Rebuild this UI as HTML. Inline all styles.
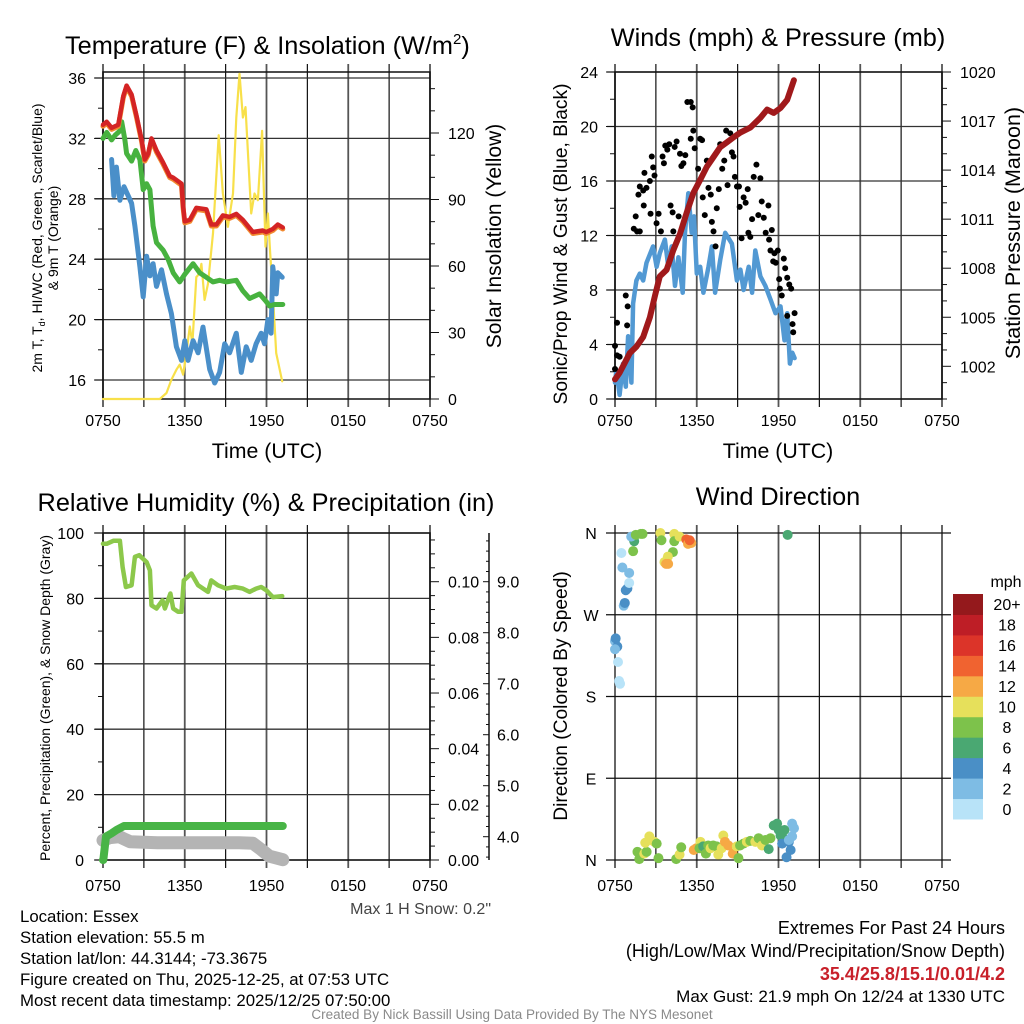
<!DOCTYPE html>
<html><head><meta charset="utf-8"><style>
html,body{margin:0;padding:0;background:#fff}
svg{display:block}
text{font-family:"Liberation Sans",sans-serif}
</style></head><body>
<svg id="chart" width="1024" height="1024" viewBox="0 0 1024 1024"></svg>
<script>
// ---- Temperature panel data (hours since 0750 UTC) ----
const tempT=[0,0.27,0.63,1.12,1.49,1.73,2.10,2.46,2.83,3.07,3.32,3.56,3.93,4.41,4.90,5.15,5.76,5.88,6.0,6.37,6.85,7.59,7.95,8.32,8.80,9.29,9.78,10.27,11.0,11.73,11.98,12.46,12.83,13.2];
const tempV=[32.9,33.1,32.7,32.9,34.8,35.5,34.9,33.5,31.9,30.6,31.0,32.0,31.2,30.4,29.5,29.4,29.0,27.5,26.5,26.6,27.4,27.3,26.3,26.3,26.9,26.8,27.0,26.6,25.8,25.9,25.8,26.0,26.3,26.1];
const dewT=[0,0.27,0.63,0.88,1.24,1.37,1.61,1.73,2.10,2.41,2.71,2.95,3.20,3.44,3.68,3.93,4.41,4.78,5.15,5.63,6.0,6.61,7.10,7.59,8.07,8.56,9.05,9.78,10.27,10.76,11.49,11.98,12.22,12.59,13.2];
const dewV=[32.0,32.4,31.9,32.2,32.5,33.1,31.9,31.0,30.5,31.2,30.6,28.6,29.0,28.6,26.2,25.1,24.6,24.0,23.1,22.5,23.0,23.7,23.1,22.8,22.5,22.6,22.5,22.6,21.9,21.4,21.7,21.2,20.9,21.0,21.0];
const wcT=[0.63,0.80,0.98,1.24,1.54,1.85,2.10,2.34,2.71,2.95,3.20,3.44,3.68,3.93,4.29,4.66,5.02,5.39,5.76,6.0,6.24,6.61,6.98,7.34,7.83,8.20,8.56,8.93,9.29,9.78,10.15,10.51,10.88,11.24,11.61,11.85,12.10,12.34,12.46,12.71,12.83,13.15];
const wcV=[30.6,28.2,30.1,27.9,28.8,28.2,27.7,26.2,23.5,21.5,24.2,22.9,23.7,22.2,23.3,21.7,20.4,18.2,17.3,18.6,17.3,18.6,17.8,19.5,16.7,15.8,16.5,18.4,17.8,19.1,16.5,18.2,17.3,18.4,19.1,18.4,20.0,19.1,23.5,21.7,23.1,22.8];
const solT=[0,4.17,4.66,5.02,5.39,5.63,5.88,6.12,6.37,6.56,6.85,7.10,7.22,7.46,7.71,8.07,8.49,8.80,9.17,9.54,9.78,10.02,10.27,10.46,10.88,11.12,11.37,11.68,11.93,12.10,12.27,12.46,12.71,13.15];
const solV=[0,0,2.7,8.7,13.2,15.5,11,20.7,32.7,25,55,56.7,61,44.7,52,74.7,119,92.7,77.7,92.7,127,146.7,127,131.7,83.7,92.7,89.7,121,68.7,83.7,65.7,47.7,20.7,8];
const tempTicks=[16,20,24,28,32,36];
const solTicks=[0,30,60,90,120];
const timeLabels=["0750","1350","1950","0150","0750"];
// ---- Wind panel data ----
const windT=[0,0.10,0.34,0.59,0.79,0.96,1.20,1.33,1.57,1.82,2.07,2.31,2.80,3.05,3.29,3.66,3.91,4.16,4.40,4.65,4.97,5.14,5.38,5.63,5.80,6.0,6.25,6.49,6.86,7.11,7.35,7.72,8.09,8.58,8.95,9.20,9.44,9.81,10.06,10.30,10.67,11.04,11.41,11.78,12.15,12.44,12.64,12.84,13.01,13.18];
const windV=[1.2,2.1,0.3,2.6,0.9,4.6,1.2,7.0,8.7,9.2,8.7,10.0,11.2,9.7,10.7,11.7,9.7,11.2,8.3,10.4,7.8,12.2,15.1,12.2,13.4,9.2,9.7,7.8,9.7,11.2,7.8,10.2,12.2,11.4,8.7,9.5,8.0,9.7,7.8,10.9,9.0,8.3,7.3,6.3,6.8,4.3,6.3,2.6,3.4,3.0];
const gustT=[0,0,0.15,0.15,0.34,0.79,0.93,0.89,1.38,1.52,1.62,1.82,1.72,1.82,2.07,2.16,2.11,2.31,2.56,2.61,2.70,2.80,2.90,3.05,3.20,3.37,3.49,3.59,3.69,3.84,3.98,4.08,4.23,4.28,4.38,4.52,4.67,4.77,4.87,5.02,5.16,5.31,5.56,5.70,5.75,5.56,5.85,6.10,6.25,6.39,6.44,6.59,6.74,6.86,7.03,7.11,7.23,7.38,7.47,7.62,7.72,7.87,8.02,8.16,8.26,8.46,8.58,8.70,8.80,8.95,9.10,9.15,9.29,9.44,9.59,9.74,9.79,9.93,10.06,10.18,10.38,10.52,10.67,10.77,10.92,11.06,11.26,11.31,11.41,11.51,11.61,11.70,11.80,11.95,12.05,12.10,12.24,12.39,12.49,12.64,12.79,12.93,13.03,13.08,13.18,12.64];
const gustV=[2.2,3.9,5.6,3.2,3.1,7.6,6.8,5.4,12.5,13.4,12.3,12.3,15.0,15.6,15.3,16.6,14.2,15.5,16.0,13.6,17.8,17.0,16.4,12.9,13.6,12.3,17.8,17.3,18.6,18.3,18.7,14.2,13.7,12.3,18.5,18.9,13.4,18.0,17.1,17.3,17.9,21.8,21.8,21.4,19.7,19.1,18.4,16.9,19.1,19.0,14.8,13.5,17.5,15.5,15.0,13.0,12.3,11.2,14.0,15.4,18.7,16.9,17.5,19.7,15.7,19.5,18.1,17.8,16.3,15.6,15.6,14.1,11.8,14.8,14.4,15.4,12.2,11.9,13.2,16.3,17.2,13.5,16.2,14.5,13.3,12.2,14.2,11.7,10.9,12.4,10.1,10.7,10.0,10.9,8.8,8.1,7.6,10.3,9.6,8.9,8.4,8.1,5.5,4.9,6.3,6.1];
const presT=[0,0.34,0.71,1.08,1.57,2.07,2.56,2.93,3.29,3.79,4.28,4.77,5.26,5.75,6.25,6.74,7.23,7.72,8.21,8.70,9.20,9.93,10.67,11.16,11.65,12.15,12.64,13.13];
const presV=[1001.2,1001.6,1002.2,1002.8,1003.2,1003.8,1005.0,1006.3,1007.5,1007.9,1009.1,1010.1,1011.4,1012.6,1013.4,1014.2,1014.8,1015.4,1015.7,1016.0,1016.3,1016.6,1017.2,1017.7,1017.5,1017.8,1018.3,1019.5];
const windTicks=[0,4,8,12,16,20,24];
const presTicks=[1002,1005,1008,1011,1014,1017,1020];
// ---- RH panel data ----
const rhT=[0,0.27,0.76,1.24,1.44,1.68,2.10,2.34,2.66,3.20,3.44,3.56,3.93,4.37,4.54,4.95,5.15,5.51,5.76,5.93,6.49,6.98,7.71,7.95,8.44,9.05,9.66,10.27,10.76,11.24,11.61,11.98,12.46,13.15];
const rhV=[96.7,96.7,97.6,97.6,89.6,83.5,84,92.7,93.2,91.1,88.6,77.9,76.9,79.4,76.9,81.5,76.9,75.9,75.9,85.5,87.6,84,82,85.5,84,83,83.5,83,82,83,83.5,82.5,80.4,80.7];
const precT=[0,0.02,0.22,0.63,1.0,1.54,13.2];
const precV=[0,0,0.0084,0.0096,0.0108,0.0122,0.0122];
const snowT=[0,0.5,1.2,2.0,4,7,10,11.0,11.6,12.2,13.2];
const snowV=[3.93,3.98,4.0,3.9,3.88,3.88,3.88,3.87,3.75,3.62,3.55];
const rhTicks=[0,20,40,60,80,100];
const precTicks=[0,0.02,0.04,0.06,0.08,0.10];
const snowTicks=[4,5,6,7,8,9];
// ---- Wind direction data ----
const dirT=[0,0.05,0.17,0,0.22,0.30,0.37,0.64,0.72,0.79,0.91,1.04,0.54,1.04,0.47,1.33,1.41,1.19,1.53,1.90,2.02,3.33,3.41,4.35,4.35,4.74,4.25,3.88,3.63,3.75,3.90,5.23,5.36,5.60,5.48,12.67,
 1.65,1.78,2.15,2.32,2.22,2.52,2.64,2.89,3.06,3.19,4.49,4.74,4.86,5.78,5.98,6.27,6.20,6.47,6.67,6.84,7.01,7.21,7.46,7.58,7.83,7.95,8.07,8.32,8.64,8.94,9.06,9.18,9.43,9.68,9.93,10.3,10.54,10.79,11.04,11.28,11.41,11.65,11.9,12.02,12.15,12.35,12.44,12.27,12.76,12.89,12.59,13.0,13.14,13.0,12.76];
const dirV=[241,244,235,232,218,197,194,280,283,297,299,305,322,316,338,340,351,356,358,359,359,360,352,359,351,356,339,334,328,326,326,353,348,349,352,358,
 9,1,7,9,19,26,22,20,18,2,1,6,14,11,13,20,13,15,7,16,13,16,15,6,13,27,20,16,7,15,2,16,18,20,21,20,24,16,22,12,24,38,40,33,27,24,33,18,20,11,3,40,35,26,22];
const dirS=[3,5,5,3,1,1,1,3,5,5,5,1,3,3,1,9,7,3,9,9,9,11,9,11,9,11,9,11,11,13,13,15,13,13,15,7,
 9,9,11,9,11,11,11,11,9,9,9,11,9,13,13,11,9,7,9,9,11,9,9,11,11,11,13,13,13,11,9,9,9,11,9,11,9,11,9,7,9,7,7,7,7,7,7,5,5,5,5,3,3,3,3];
const dirTicks=["N","E","S","W","N"];
const speedLabels=["0","2","4","6","8","10","12","14","16","18","20+"];
const speedColors=["#b8e3f8","#7ebce4","#4a8fc6","#4aa872","#7dc24b","#e6e05b","#f6a945","#f06330","#dc3429","#be1e26","#94191c"];

const NS="http://www.w3.org/2000/svg";
const svg=document.getElementById('chart');
function mk(tag,attrs,parent){const e=document.createElementNS(NS,tag);for(const k in attrs)e.setAttribute(k,attrs[k]);(parent||svg).appendChild(e);return e;}
function txt(s,x,y,size,anchor,parent,extra){const t=mk('text',Object.assign({x:x,y:y,'font-size':size,'text-anchor':anchor||'start',fill:'#000'},extra||{}),parent);t.textContent=s;return t;}

const X0L=103,X1L=430,X0R=615,X1R=942;
function xs(x0,x1){return h=>x0+(h/24)*(x1-x0);}
function lin(d0,d1,r0,r1){return v=>r0+(v-d0)/(d1-d0)*(r1-r0);}

function frame(g,x0,x1,y0,y1,gridYs){
  for(let i=0;i<=8;i++){const x=x0+i*(x1-x0)/8;
    const l=mk('line',{x1:x,x2:x,y1:y0-8,y2:y1+8,stroke:(i%2==0)?'#555':'#111','stroke-width':(i%2==0)?1.8:1.2},g);
    }
  gridYs.forEach(y=>{const l=mk('line',{x1:x0-8,x2:x1,y1:y,y2:y,stroke:'#333','stroke-width':1.3},g);
    });
  mk('rect',{x:x0,y:y0,width:x1-x0,height:y1-y0,fill:'none',stroke:'#111','stroke-width':1.5},g);
}
function xlabels(g,x0,x1,y){timeLabels.forEach((s,i)=>{const t=txt(s,x0+i*(x1-x0)/4,y,16,'middle',g);});}
function line(g,T,V,xf,yf,color,w,name){const d=T.map((t,i)=>(i?'L':'M')+xf(t).toFixed(1)+','+yf(V[i]).toFixed(1)).join('');
  const p=mk('path',{d:d,fill:'none',stroke:color,'stroke-width':w,'stroke-linejoin':'round','stroke-linecap':'round'},g);
  return p;}

// ===== Panel 1: Temperature =====
(function(){
  const g=mk('g',{});
  const x=xs(X0L,X1L), y=lin(16,36,380,78), ys=lin(0,120,399,133);
  const t=txt('Temperature (F) & Insolation (W/m',65,54,25.3,'start',g);
  const sup=mk('tspan',{dy:-10,'font-size':15},t);sup.textContent='2';
  const cl=mk('tspan',{dy:10},t);cl.textContent=')';
  
  frame(g,X0L,X1L,72,399,tempTicks.map(y));
  for(let v=16;v<=36;v+=2){mk('line',{x1:X0L-(v%4?5:9),x2:X0L,y1:y(v),y2:y(v),stroke:'#111'},g);}
  tempTicks.forEach(v=>{const e=txt(String(v),86,y(v)+6,16,'end',g);});
  for(let v=0;v<=145;v+=10){mk('line',{x1:X1L,x2:X1L+(v%30?5:9),y1:ys(v),y2:ys(v),stroke:'#111'},g);}
  solTicks.forEach(v=>{const e=txt(String(v),448,ys(v)+6,16,'start',g);});
  xlabels(g,X0L,X1L,426);
  const xt=txt('Time (UTC)',267,458,21.3,'middle',g);
  const a=txt('2m T, T',0,0,14,'middle',g,{transform:'translate(42,238) rotate(-90)'});
  const sub=mk('tspan',{dy:3,'font-size':9},a);sub.textContent='d';
  const rest=mk('tspan',{dy:-3},a);rest.textContent=', HI/WC (Red, Green, Scarlet/Blue)';
  
  const b=txt('& 9m T (Orange)',0,0,14,'middle',g,{transform:'translate(58,238) rotate(-90)'});
  
  const r=txt('Solar Insolation (Yellow)',0,0,21,'middle',g,{transform:'translate(501,236) rotate(-90)'});
  
  line(g,solT,solV,x,ys,'#f8e04a',2.2,'solar-insolation-line');
  line(g,wcT,wcV,x,y,'#4a8fc9',5,'wind-chill-line');
  line(g,dewT,dewV,x,y,'#47b23f',5,'dewpoint-line');
  const o=line(g,tempT,tempV,x,y,'#f28a30',5,'9m-temperature-line');o.setAttribute('transform','translate(0,1.5)');
  line(g,tempT,tempV,x,y,'#d42424',4.5,'temperature-line');
})();

// ===== Panel 2: Wind =====
(function(){
  const g=mk('g',{});
  const x=xs(X0R,X1R), y=lin(0,24,399,72), yp=lin(1000,1020,399,72);
  const t=txt('Winds (mph) & Pressure (mb)',778,46,25.3,'middle',g);
  frame(g,X0R,X1R,72,399,windTicks.map(y));
  for(let v=0;v<=24;v+=2){mk('line',{x1:X0R-(v%4?5:9),x2:X0R,y1:y(v),y2:y(v),stroke:'#111'},g);}
  windTicks.forEach(v=>{const e=txt(String(v),598,y(v)+6,16,'end',g);});
  for(let v=1000;v<=1020;v+=1){mk('line',{x1:X1R,x2:X1R+((v-1002)%3?5:9),y1:yp(v),y2:yp(v),stroke:'#111'},g);}
  presTicks.forEach(v=>{const e=txt(String(v),960,yp(v)+6,16,'start',g);});
  xlabels(g,X0R,X1R,426);
  const xt=txt('Time (UTC)',778,458,21.3,'middle',g);
  const a=txt('Sonic/Prop Wind & Gust (Blue, Black)',0,0,19.2,'middle',g,{transform:'translate(567,244) rotate(-90)'});
  const r=txt('Station Pressure (Maroon)',0,0,21.5,'middle',g,{transform:'translate(1020,233) rotate(-90)'});
  line(g,windT,windV,x,y,'#5299d3',4.5,'wind-speed-line');
  gustT.forEach((t,i)=>{const c=mk('circle',{cx:x(t),cy:y(gustV[i]),r:3,fill:'#000'},g);
    });
  line(g,presT,presV,x,yp,'#a0191b',6,'pressure-line');
})();

// ===== Panel 3: RH =====
(function(){
  const g=mk('g',{});
  const x=xs(X0L,X1L), y=lin(0,100,860,533), yp=lin(0,0.1,860,581.7), ysn=lin(4,9,836.7,581.7);
  const t=txt('Relative Humidity (%) & Precipitation (in)',266,511,25.3,'middle',g);
  frame(g,X0L,X1L,533,860,rhTicks.map(y));
  for(let v=0;v<=100;v+=10){mk('line',{x1:X0L-(v%20?5:9),x2:X0L,y1:y(v),y2:y(v),stroke:'#111'},g);}
  rhTicks.forEach(v=>{const e=txt(String(v),84,y(v)+6,16,'end',g);});
  for(let i=0;i<=23;i++){const v=i*0.005;mk('line',{x1:X1L,x2:X1L+(i%4?5:9),y1:yp(v),y2:yp(v),stroke:'#111'},g);}
  precTicks.forEach(v=>{const e=txt(v.toFixed(2),448,yp(v)+6,16,'start',g);});
  mk('line',{x1:489,x2:489,y1:533,y2:860,stroke:'#111','stroke-width':1.5},g);
  for(let v=3.6;v<=9.9;v+=0.2){mk('line',{x1:489,x2:489-(Math.abs(v-Math.round(v))<0.01?6:3),y1:ysn(v),y2:ysn(v),stroke:'#111'},g);}
  snowTicks.forEach(v=>{const e=txt(v.toFixed(1),497,ysn(v)+6,16,'start',g);});
  xlabels(g,X0L,X1L,891);
  const a=txt('Percent, Precipitation (Green), & Snow Depth (Gray)',0,0,14,'middle',g,{transform:'translate(50,698) rotate(-90)'});
  line(g,snowT,snowV,x,ysn,'#b4b4b4',13,'snow-depth-line');
  line(g,precT,precV,x,yp,'#48b446',8,'precipitation-line');
  line(g,rhT,rhV,x,y,'#8cc84b',4.5,'humidity-line');
  const m=txt('Max 1 H Snow: 0.2"',491,914,16,'end',g,{fill:'#444'});
})();

// ===== Panel 4: Direction =====
(function(){
  const g=mk('g',{});
  const x=xs(X0R,X1R), y=lin(0,360,860,533);
  const t=txt('Wind Direction',778,505,25.3,'middle',g);
  for(let i=0;i<=8;i++){const xx=X0R+i*(X1R-X0R)/8;mk('line',{x1:xx,x2:xx,y1:525,y2:868,stroke:(i%2==0)?'#555':'#111','stroke-width':(i%2==0)?1.8:1.2},g);}
  dirTicks.forEach((s,i)=>{const yy=y(i*90);mk('line',{x1:606,x2:951,y1:yy,y2:yy,stroke:'#111','stroke-width':1.3},g);
    const e=txt(s,591,yy+6,16,'middle',g);});
  xlabels(g,X0R,X1R,891);
  const a=txt('Direction (Colored By Speed)',0,0,19.2,'middle',g,{transform:'translate(567,696) rotate(-90)'});
  dirT.forEach((t,i)=>{const b=Math.min(10,Math.floor(dirS[i]/2));
    const c=mk('circle',{cx:x(t),cy:y(dirV[i]),r:5,fill:speedColors[b]},g);
    });
  const lg=mk('g',{},g);
  txt('mph',1006,587,16,'middle',lg);
  const h=(819-594)/11;
  speedLabels.forEach((s,i)=>{const yy=819-(i+1)*h;
    const r=mk('rect',{x:953,y:yy,width:30,height:h+0.5,fill:speedColors[i]},lg);
    const e=txt(s,1007,yy+h/2+6,16,'middle',lg);});
})();

// ===== Footer =====
const info=["Location: Essex","Station elevation: 55.5 m","Station lat/lon: 44.3144; -73.3675","Figure created on Thu, 2025-12-25, at 07:53 UTC","Most recent data timestamp: 2025/12/25 07:50:00"];
info.forEach((s,i)=>{const e=txt(s,20,922+i*21,16.8,'start');});
const r1=txt('Extremes For Past 24 Hours',1005,934,18,'end');
const r2=txt('(High/Low/Max Wind/Precipitation/Snow Depth)',1005,957,18,'end');
const r3=txt('35.4/25.8/15.1/0.01/4.2',1005,980,18,'end',null,{fill:'#c8202a','font-weight':'bold'});
const r4=txt('Max Gust: 21.9 mph On 12/24 at 1330 UTC',1005,1002,17,'end');
const cr=txt('Created By Nick Bassill Using Data Provided By The NYS Mesonet',512,1019,13.5,'middle',null,{fill:'#8a8a8a'});
</script>
</body></html>
